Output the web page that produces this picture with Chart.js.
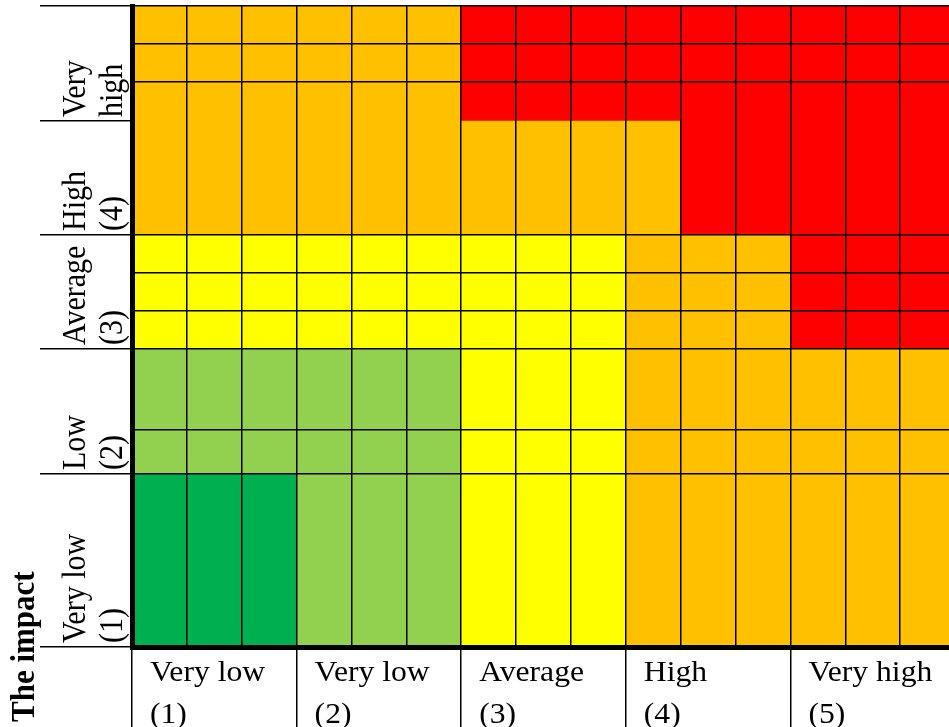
<!DOCTYPE html>
<html>
<head>
<meta charset="utf-8">
<script src="https://cdn.jsdelivr.net/npm/chart.js@4.4.1/dist/chart.umd.min.js"></script>
<style>
  html, body { margin: 0; padding: 0; background: #fff; overflow: hidden; }
  #wrap { position: relative; width: 955px; height: 727px; }
</style>
</head>
<body>
<div id="wrap"><canvas id="riskMatrix"></canvas></div>
<script>
// Probability groups (x), each split in 3 sub-columns
const likelihood = [['Very low', '(1)'], ['Very low', '(2)'], ['Average', '(3)'], ['High', '(4)'], ['Very high', '(5)']];
const subCols = 3;
// Impact bands (y), bottom to top
const impact = [['Very low', '(1)'], ['Low', '(2)'], ['Average', '(3)'], ['High', '(4)'], ['Very', 'high']];
const impactTitle = 'The impact';
// band edges along the impact axis, bottom to top
const bandEdges = [0, 173, 298, 412, 526, 641];
// inner row lines inside the bands
const rowLines = [217, 336, 374, 565, 603];

// risk level per sub-column in each impact band (1 lowest .. 5 highest)
const levelVeryLow  = [1, 1, 1, 2, 2, 2, 3, 3, 3, 4, 4, 4, 4, 4, 4];
const levelLow      = [2, 2, 2, 2, 2, 2, 3, 3, 3, 4, 4, 4, 4, 4, 4];
const levelAverage  = [3, 3, 3, 3, 3, 3, 3, 3, 3, 4, 4, 4, 5, 5, 5];
const levelHigh     = [4, 4, 4, 4, 4, 4, 4, 4, 4, 4, 5, 5, 5, 5, 5];
const levelVeryHigh = [4, 4, 4, 4, 4, 4, 5, 5, 5, 5, 5, 5, 5, 5, 5];
const levels = [levelVeryLow, levelLow, levelAverage, levelHigh, levelVeryHigh];

const levelColors = ['#00B050', '#92D050', '#FFFF00', '#FFC000', '#FF0000'];

const FONT = "'Liberation Serif', 'Times New Roman', serif";
const STRETCH = 1.11; // text in the picture is a bit wider than tall

// one label per sub-column
const xLabels = [];
likelihood.forEach(g => {
    for (let k = 0; k < subCols; k++) xLabels.push(g.join(' ') + ' ' + (k + 1));
});

const datasets = levels.map((row, i) => ({
    label: impact[i].join(' '),
    data: row.map(() => [bandEdges[i], bandEdges[i + 1]]),
    backgroundColor: row.map(l => levelColors[l - 1]),
    borderWidth: 0,
    barPercentage: 1,
    categoryPercentage: 1,
    grouped: false
}));

// text around the matrix
const labelsPlugin = {
    id: 'matrixLabels',
    afterDraw(chart) {
        const ctx = chart.ctx;
        const x = chart.scales.x;
        const y = chart.scales.y;
        const colW = x.width / xLabels.length;
        ctx.save();
        ctx.fillStyle = '#000';
        ctx.textAlign = 'left';
        ctx.textBaseline = 'alphabetic';

        // likelihood labels under the matrix
        ctx.font = '28.5px ' + FONT;
        likelihood.forEach((lines, g) => {
            const left = x.getPixelForValue(g * subCols) - colW / 2;
            ctx.save();
            ctx.translate(left + 18, y.bottom);
            ctx.scale(STRETCH, 1);
            ctx.fillText(lines[0], 0, 34);
            ctx.fillText(lines[1], 0, 76);
            ctx.restore();
        });

        // impact labels left of the matrix, rotated
        ctx.font = '30px ' + FONT;
        impact.forEach((lines, i) => {
            const bottom = y.getPixelForValue(bandEdges[i]);
            [85, 122].forEach((bx, k) => {
                ctx.save();
                ctx.translate(bx, bottom - 4);
                ctx.rotate(-Math.PI / 2);
                ctx.scale(1, STRETCH);
                ctx.fillText(lines[k], 0, 0);
                ctx.restore();
            });
        });

        // axis title
        ctx.font = 'bold 31px ' + FONT;
        ctx.save();
        ctx.translate(34, 722);
        ctx.rotate(-Math.PI / 2);
        ctx.scale(1, STRETCH);
        ctx.fillText(impactTitle, 0, 0);
        ctx.restore();
        ctx.restore();
    }
};

const allTicks = bandEdges.concat(rowLines).sort((a, b) => a - b);

new Chart(document.getElementById('riskMatrix'), {
    type: 'bar',
    data: { labels: xLabels, datasets: datasets },
    options: {
        responsive: true,
        maintainAspectRatio: false,
        animation: false,
        layout: { padding: { left: 40, top: 6, right: 0, bottom: 0 } },
        plugins: { legend: { display: false }, tooltip: { enabled: false } },
        scales: {
            x: {
                type: 'category',
                offset: true,
                ticks: { display: false },
                grid: {
                    offset: true,
                    z: 1,
                    color: '#000',
                    lineWidth: 1.5,
                    tickLength: 80,
                    tickWidth: 1.5,
                    tickColor: c => (c.index % subCols === 0 ? '#000' : 'rgba(0,0,0,0)')
                },
                border: { display: true, color: '#000', width: 5, z: 2 }
            },
            y: {
                type: 'linear',
                min: bandEdges[0],
                max: bandEdges[bandEdges.length - 1],
                afterBuildTicks: axis => { axis.ticks = allTicks.map(v => ({ value: v })); },
                ticks: { display: false },
                grid: {
                    z: 1,
                    lineWidth: 1.5,
                    tickLength: 92,
                    tickWidth: 1.5,
                    // the High band is one merged cell: no line at its top inside the matrix
                    color: c => (c.tick && c.tick.value === bandEdges[4] ? 'rgba(0,0,0,0)' : '#000'),
                    tickColor: c => (c.tick && bandEdges.includes(c.tick.value) ? '#000' : 'rgba(0,0,0,0)')
                },
                border: { display: true, color: '#000', width: 5, z: 2 }
            }
        }
    },
    plugins: [labelsPlugin]
});
</script>
</body>
</html>
